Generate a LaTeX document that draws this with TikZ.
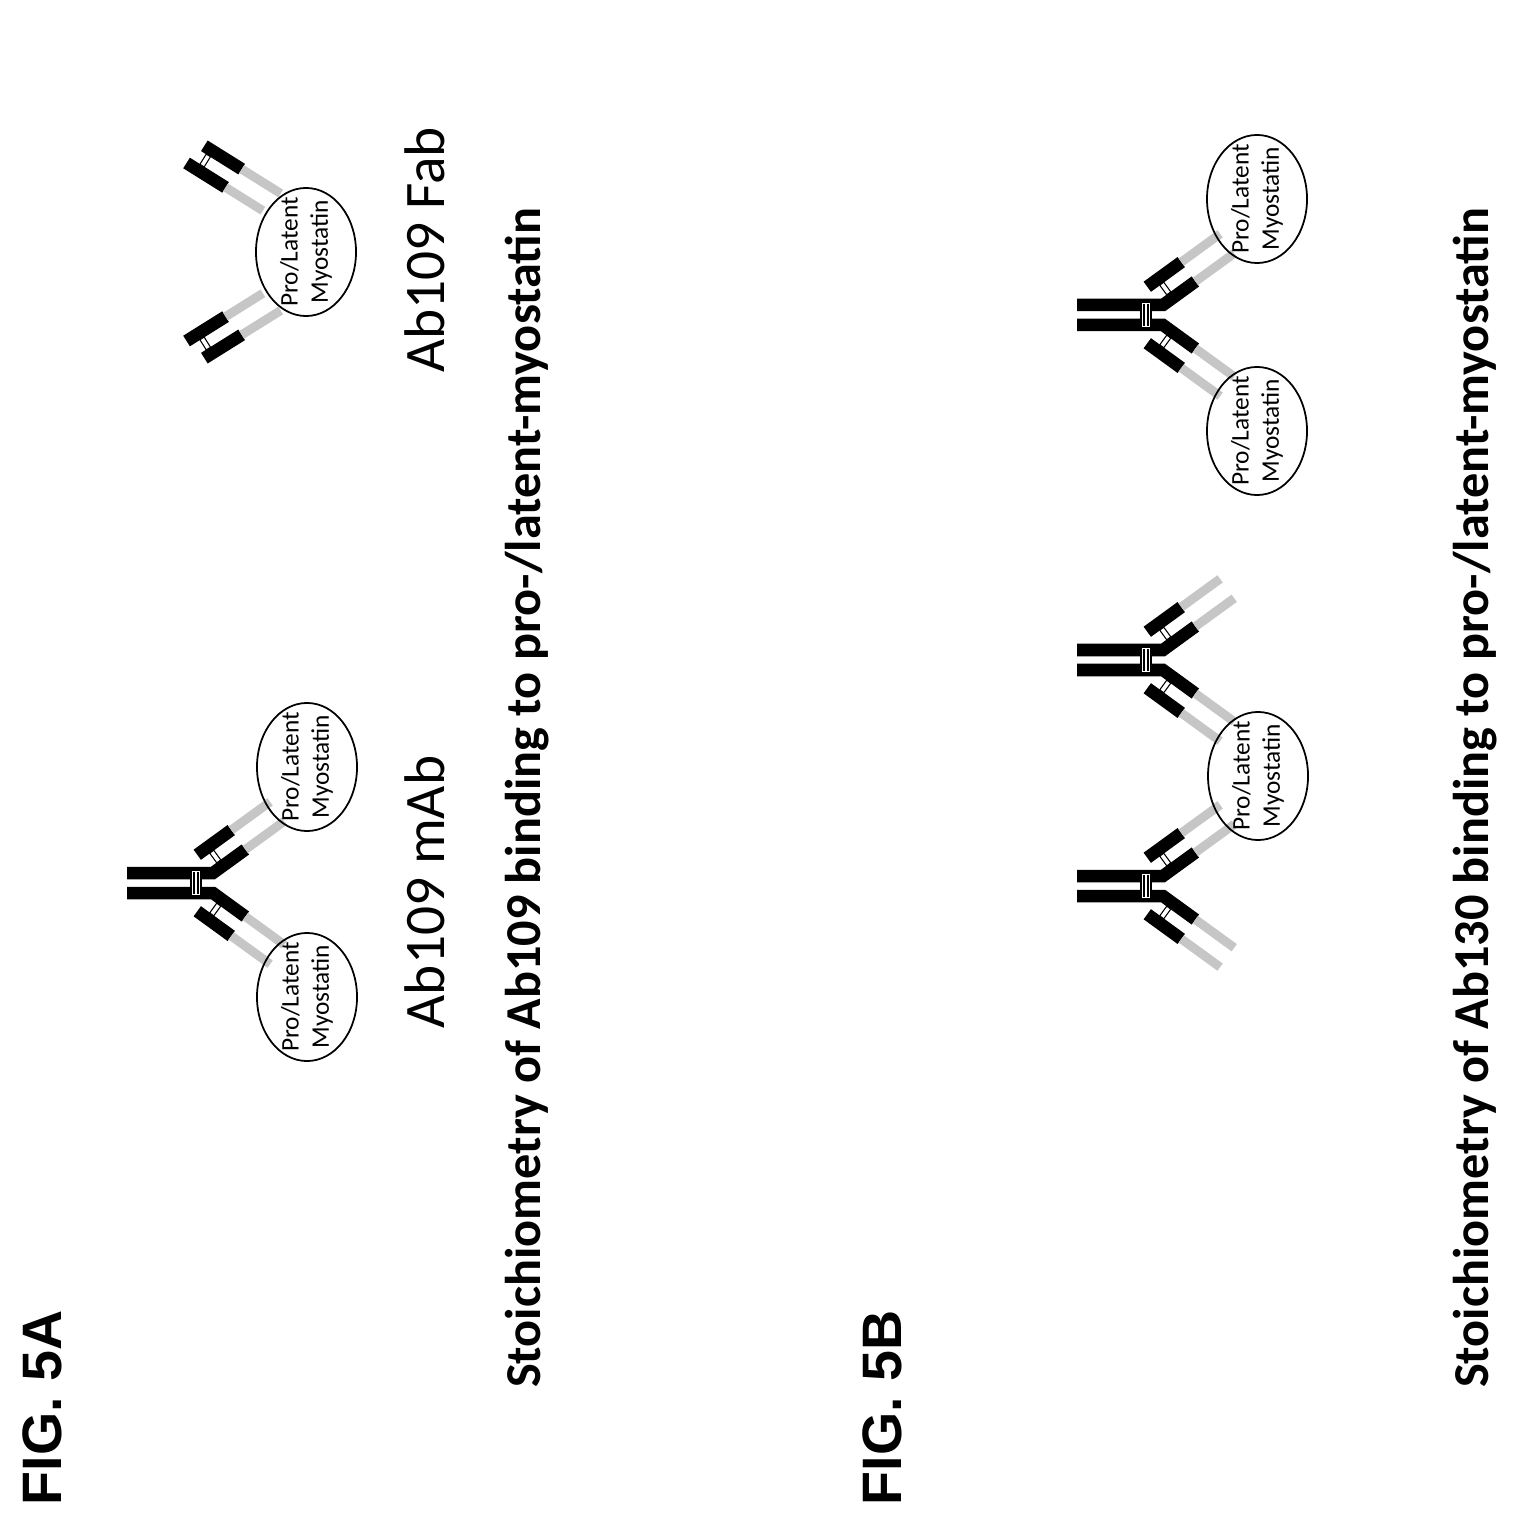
\documentclass[tikz,border=0pt]{standalone}
\usepackage{fontspec}
\setmainfont{Carlito}
\newfontfamily\figfont{Liberation Sans}
\usetikzlibrary{shapes.geometric}

\tikzset{
  hchain/.style={line width=1.25mm, black, line cap=butt, line join=miter},
  vchain/.style={line width=0.9mm, gray!45, line cap=butt},
  link/.style={fill=white, draw=black, line width=0.3pt},
  antigen/.style={shape=ellipse, draw=black, line width=0.5pt, rotate=90,
    minimum width=1.28cm, minimum height=1cm, inner sep=-4pt, align=center,
    font=\fontsize{7.2pt}{8.6pt}\selectfont},
  label/.style={rotate=90, font=\fontsize{16.3pt}{19pt}\selectfont},
  title/.style={rotate=90, font=\fontsize{14.3pt}{17pt}\selectfont\bfseries},
  fig/.style={rotate=90, font=\fontsize{15.8pt}{18pt}\selectfont\figfont\bfseries}
}

\newcommand{\halfmab}{%
  \draw[hchain] (-86,-10) -- (0,-10) -- ++(-36:40);
  \begin{scope}[shift={(0,-10)}, rotate=36]
    \draw[vchain] (40,0) -- (88,0);
    \draw[hchain] (-2,-24) -- (40,-24);
    \draw[vchain] (40,-24) -- (88,-24);
    \draw[link] (9,-18) rectangle (14,-6);
  \end{scope}}

\newcommand{\mab}[2]{%
  \begin{scope}[shift={(#1,#2)}]
    \halfmab
    \begin{scope}[yscale=-1]\halfmab\end{scope}
    \draw[link] (-22,-13) rectangle (-12,13);
    \draw[black, line width=0.5pt] (-19,-11) -- (-19,11);
    \draw[black, line width=0.5pt] (-15,-11) -- (-15,11);
  \end{scope}}

\newcommand{\fabarm}{%
  \draw[hchain] (0,-12) -- (44,-12);
  \draw[vchain] (44,-12) -- (90,-12);
  \draw[hchain] (-6,12) -- (40,12);
  \draw[vchain] (40,12) -- (84,12);
  \draw[link] (6,-6) rectangle (11,6);}

\begin{document}
\begin{tikzpicture}[x=0.01cm, y=-0.01cm]
\useasboundingbox (0,0) rectangle (1523,1531);

% FIG. 5A
\node[fig] (figA) at (42,1408) {FIG. 5A};
\mab{213}{883}
\node[antigen] (a1) at (307,767) {Pro/Latent\\Myostatin};
\node[antigen] (a2) at (307,997) {Pro/Latent\\Myostatin};
\begin{scope}[shift={(198,156)}, rotate=-32]\fabarm\end{scope}
\begin{scope}[shift={(198,348)}, rotate=32, yscale=-1]\fabarm\end{scope}
\node[antigen] (a3) at (306,252) {Pro/Latent\\Myostatin};
\node[label] (mabA) at (425,892) {Ab109 mAb};
\node[label] (fabA) at (425,250) {Ab109 Fab};
\node[title] (titleA) at (527,798) {Stoichiometry of Ab109 binding to pro-/latent-myostatin};

% FIG. 5B
\node[fig] (figB) at (882,1408) {FIG. 5B};
\mab{1163}{660}
\mab{1163}{886}
\node[antigen] (b1) at (1258,776) {Pro/Latent\\Myostatin};
\mab{1163}{315}
\node[antigen] (b2) at (1257,199) {Pro/Latent\\Myostatin};
\node[antigen] (b3) at (1257,431) {Pro/Latent\\Myostatin};
\node[title] (titleB) at (1475,798) {Stoichiometry of Ab130 binding to pro-/latent-myostatin};
\end{tikzpicture}
\end{document}
